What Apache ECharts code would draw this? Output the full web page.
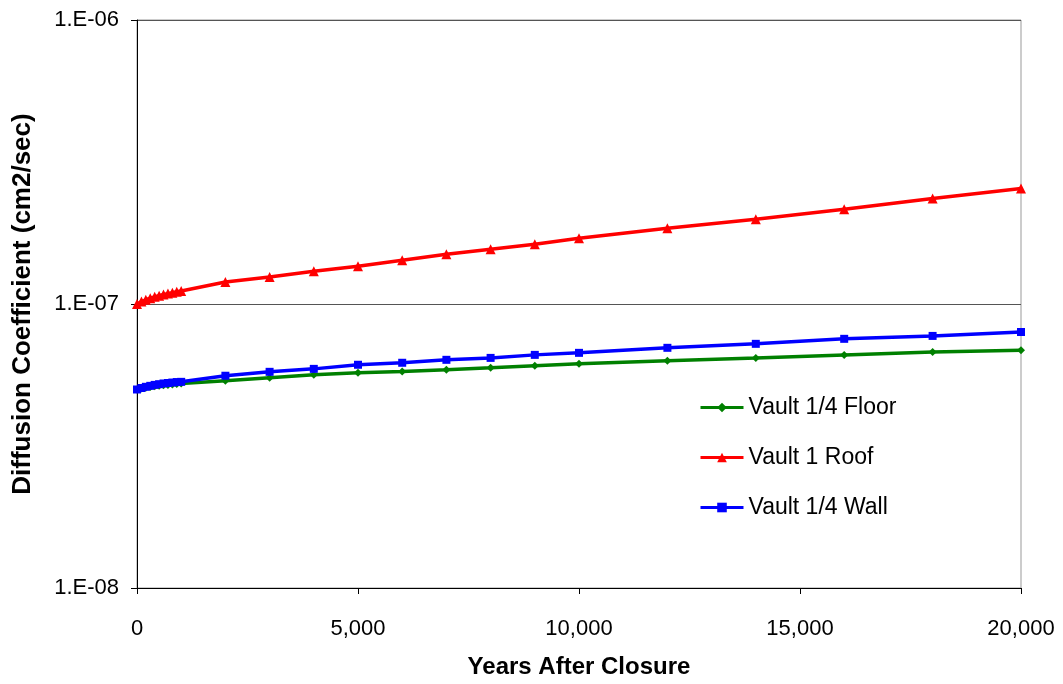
<!DOCTYPE html>
<html>
<head>
<meta charset="utf-8">
<script src="https://cdn.jsdelivr.net/npm/echarts@6/dist/echarts.min.js"></script>
<style>
html,body{margin:0;padding:0;background:#fff;}
#main{width:1063px;height:684px;}
</style>
</head>
<body>
<div id="main"></div>
<script>
// years after closure
var years = [0, 100, 200, 300, 400, 500, 600, 700, 800, 900, 1000,
	2000, 3000, 4000, 5000, 6000, 7000, 8000, 9000, 10000,
	12000, 14000, 16000, 18000, 20000];
// diffusion coefficients (cm2/sec)
var floorVals = [5.00e-8, 5.04e-8, 5.07e-8, 5.10e-8, 5.13e-8, 5.15e-8, 5.17e-8, 5.19e-8, 5.21e-8, 5.23e-8, 5.25e-8,
	5.37e-8, 5.50e-8, 5.64e-8, 5.73e-8, 5.79e-8, 5.87e-8, 5.96e-8, 6.06e-8, 6.16e-8,
	6.31e-8, 6.46e-8, 6.62e-8, 6.78e-8, 6.87e-8];
var roofVals = [1.00e-7, 1.02e-7, 1.035e-7, 1.048e-7, 1.06e-7, 1.07e-7, 1.08e-7, 1.088e-7, 1.096e-7, 1.104e-7, 1.111e-7,
	1.195e-7, 1.244e-7, 1.305e-7, 1.359e-7, 1.427e-7, 1.497e-7, 1.560e-7, 1.624e-7, 1.704e-7,
	1.848e-7, 1.987e-7, 2.154e-7, 2.354e-7, 2.553e-7];
var wallVals = [5.00e-8, 5.06e-8, 5.11e-8, 5.15e-8, 5.19e-8, 5.22e-8, 5.25e-8, 5.27e-8, 5.29e-8, 5.31e-8, 5.32e-8,
	5.59e-8, 5.77e-8, 5.91e-8, 6.11e-8, 6.21e-8, 6.36e-8, 6.46e-8, 6.62e-8, 6.73e-8,
	7.01e-8, 7.24e-8, 7.54e-8, 7.72e-8, 7.97e-8];
var seriesNames = ['Vault 1/4 Floor', 'Vault 1 Roof', 'Vault 1/4 Wall'];

function pairs(vals){
	var out = [];
	for(var i = 0; i < years.length; i++){ out.push([years[i], vals[i]]); }
	return out;
}

var myChart = echarts.init(document.getElementById('main'));
var fnt = 'Liberation Sans, Arial, sans-serif';

var option = {
	backgroundColor: '#fff',
	animation: false,
	grid: {
		left: 137, right: 42, top: 20, bottom: 94,
		show: true, borderColor: '#999', borderWidth: 1
	},
	legend: {
		orient: 'vertical',
		left: 694, top: 391,
		itemWidth: 43, itemHeight: 12, itemGap: 27,
		lineStyle: {width: 3},
		textStyle: {fontFamily: fnt, fontSize: 23, color: '#000'},
		data: seriesNames
	},
	xAxis: {
		type: 'value',
		min: 0, max: 20000, interval: 5000,
		name: 'Years After Closure',
		nameLocation: 'middle', nameGap: 67,
		nameTextStyle: {fontFamily: fnt, fontSize: 24, fontWeight: 'bold', color: '#000'},
		axisLine: {lineStyle: {color: '#000', width: 1}},
		axisTick: {show: true, length: 6, lineStyle: {color: '#000'}},
		axisLabel: {
			fontFamily: fnt, fontSize: 22, color: '#000', margin: 30,
			formatter: function(v){ return v.toString().replace(/\B(?=(\d{3})+(?!\d))/g, ','); }
		},
		splitLine: {show: false}
	},
	yAxis: {
		type: 'log', logBase: 10,
		min: 1e-8, max: 1e-6,
		name: 'Diffusion Coefficient (cm2/sec)',
		nameLocation: 'middle', nameGap: 101,
		nameTextStyle: {fontFamily: fnt, fontSize: 26, fontWeight: 'bold', color: '#000'},
		axisLine: {show: true, lineStyle: {color: '#000', width: 1}},
		axisTick: {show: true, length: 6, lineStyle: {color: '#000'}},
		axisLabel: {
			fontFamily: fnt, fontSize: 22, color: '#000', margin: 18,
			formatter: function(v){
				var e = Math.round(Math.log(v) / Math.LN10);
				var s = Math.abs(e) < 10 ? '0' + Math.abs(e) : '' + Math.abs(e);
				return '1.E' + (e < 0 ? '-' : '+') + s;
			}
		},
		splitLine: {show: true, lineStyle: {color: '#555', width: 1}},
		minorTick: {show: false}
	},
	series: [
		{
			name: seriesNames[0], type: 'line', data: pairs(floorVals),
			symbol: 'diamond', symbolSize: 8,
			lineStyle: {color: '#008000', width: 3.5},
			itemStyle: {color: '#008000'}, z: 2
		},
		{
			name: seriesNames[1], type: 'line', data: pairs(roofVals),
			symbol: 'triangle', symbolSize: 10,
			lineStyle: {color: '#ff0000', width: 3.5},
			itemStyle: {color: '#ff0000'}, z: 3
		},
		{
			name: seriesNames[2], type: 'line', data: pairs(wallVals),
			symbol: 'rect', symbolSize: 8,
			lineStyle: {color: '#0000ff', width: 3.5},
			itemStyle: {color: '#0000ff'}, z: 3
		}
	]
};

myChart.setOption(option);
</script>
</body>
</html>
